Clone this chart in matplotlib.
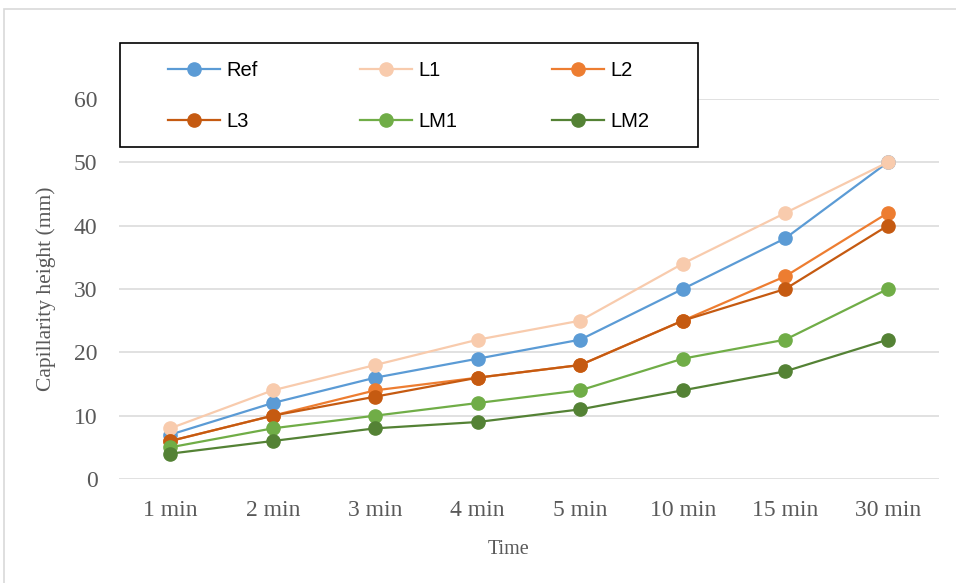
import matplotlib
matplotlib.use("Agg")
import matplotlib.pyplot as plt
from matplotlib.lines import Line2D
from matplotlib.patches import Rectangle

categories = ["1 min", "2 min", "3 min", "4 min", "5 min", "10 min", "15 min", "30 min"]
series_names = ["Ref", "L1", "L2", "L3", "LM1", "LM2"]
ref = [7, 12, 16, 19, 22, 30, 38, 50]
l1 = [8, 14, 18, 22, 25, 34, 42, 50]
l2 = [6, 10, 14, 16, 18, 25, 32, 42]
l3 = [6, 10, 13, 16, 18, 25, 30, 40]
lm1 = [5, 8, 10, 12, 14, 19, 22, 30]
lm2 = [4, 6, 8, 9, 11, 14, 17, 22]
colors = ["#5B9BD5", "#F8CBAD", "#ED7D31", "#C55A11", "#70AD47", "#548235"]
yticks = [0, 10, 20, 30, 40, 50, 60]

W, H = 956, 583
fig = plt.figure(figsize=(W / 100, H / 100), dpi=100)
fig.patch.set_facecolor("white")

# outer chart border
fig.add_artist(Rectangle((4 / W, -0.01), 1, 1.01 - 9 / H, transform=fig.transFigure,
                         fill=False, edgecolor="#D9D9D9", lw=1.2))

ax = fig.add_axes([119 / W, (H - 479) / H, (939 - 119) / W, (479 - 99) / H])
x = list(range(len(categories)))
data = [ref, l1, l2, l3, lm1, lm2]
for name, vals, c in zip(series_names, data, colors):
    ax.plot(x, vals, color=c, lw=1.6, marker="o", markersize=9.5,
            markeredgecolor=c, label=name, zorder=3, solid_capstyle="round")

ax.set_xlim(-0.5, len(categories) - 0.5)
ax.set_ylim(0, 60)
ax.set_yticks(yticks)
ax.set_xticks(x)
ax.set_xticklabels(categories)
for s in ax.spines.values():
    s.set_visible(False)
ax.yaxis.grid(True, color="#D9D9D9", lw=1.1)
ax.set_axisbelow(True)
ax.tick_params(axis="both", length=0, colors="#595959", labelsize=17)
ax.tick_params(axis="y", pad=15.5)
ax.tick_params(axis="x", pad=15)
for lab in ax.get_xticklabels() + ax.get_yticklabels():
    lab.set_fontfamily("Liberation Serif")

fig.text(509 / W, 1 - 550 / H, "Time", ha="center", va="center",
         fontsize=14.5, color="#595959", family="Liberation Serif")
fig.text(46 / W, 1 - 289 / H, "Capillarity height (mm)", ha="center", va="center",
         rotation=90, fontsize=15.5, color="#595959", family="Liberation Serif")

# legend box
fig.add_artist(Rectangle((120 / W, 1 - 147 / H), (698 - 120) / W, (147 - 43) / H,
                         transform=fig.transFigure, facecolor="white",
                         edgecolor="black", lw=1.2, zorder=4))

handles = [Line2D([], [], color=c, lw=1.6, marker="o", markersize=9.5,
                  markeredgecolor=c) for c in colors]
fs = 14.5
col_groups = [(0, 3), (1, 4), (2, 5)]
col_x = [168, 360, 552]
for (i, j), cx in zip(col_groups, col_x):
    leg = fig.legend([handles[i], handles[j]], [series_names[i], series_names[j]],
                     loc="center left", bbox_to_anchor=(cx / W, 1 - 96 / H),
                     bbox_transform=fig.transFigure, frameon=False,
                     borderpad=0, borderaxespad=0,
                     handlelength=2.6, handletextpad=0.3, labelspacing=1.62,
                     prop={"family": "Liberation Sans", "size": fs})
    leg.set_zorder(5)

fig.savefig("out.png", dpi=100)
